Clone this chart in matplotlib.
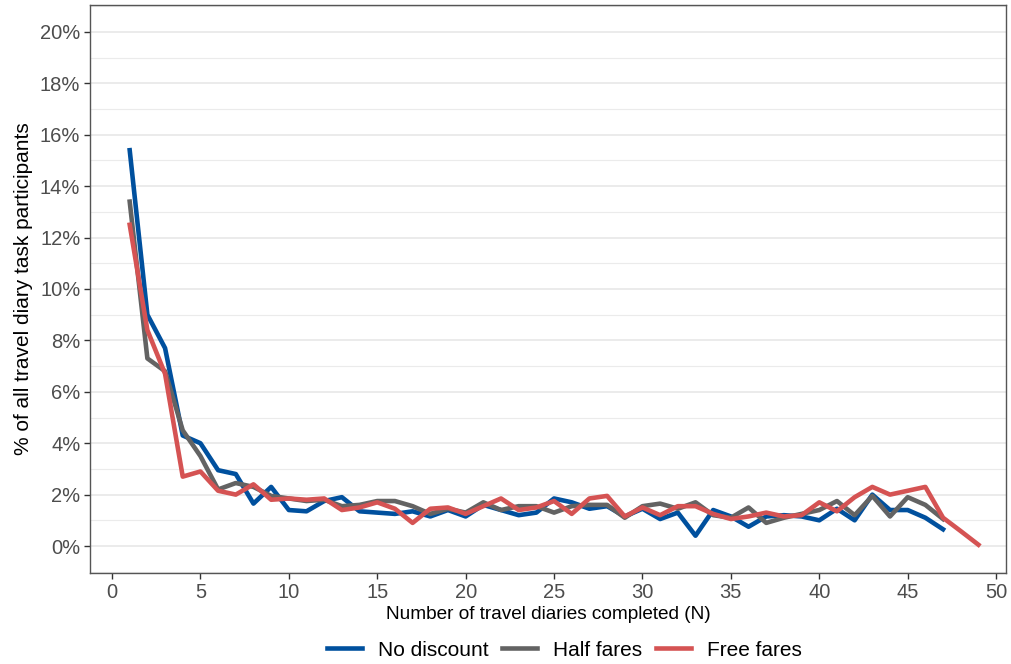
import matplotlib
matplotlib.use("Agg")
import matplotlib.pyplot as plt
from matplotlib.ticker import MultipleLocator, FuncFormatter

plt.rcParams['font.family'] = ['Liberation Sans', 'DejaVu Sans']

n_no = list(range(1, 48))
no_discount = [15.4, 9.0, 7.7, 4.3, 4.0, 2.95, 2.8, 1.65, 2.3, 1.4,
               1.35, 1.75, 1.9, 1.35, 1.3, 1.25, 1.35, 1.15, 1.4, 1.15,
               1.6, 1.4, 1.2, 1.3, 1.85, 1.7, 1.45, 1.55, 1.15, 1.45,
               1.05, 1.3, 0.4, 1.4, 1.15, 0.75, 1.15, 1.2, 1.15, 1.0,
               1.45, 1.0, 2.0, 1.4, 1.4, 1.1, 0.65]
n_half = list(range(1, 48))
half_fares = [13.4, 7.3, 6.8, 4.5, 3.5, 2.2, 2.45, 2.3, 1.95, 1.85,
              1.75, 1.8, 1.55, 1.6, 1.75, 1.75, 1.55, 1.25, 1.45, 1.3,
              1.7, 1.4, 1.55, 1.55, 1.3, 1.55, 1.6, 1.6, 1.1, 1.55,
              1.65, 1.45, 1.7, 1.2, 1.1, 1.5, 0.9, 1.1, 1.25, 1.4,
              1.75, 1.2, 1.95, 1.15, 1.9, 1.6, 1.05]
n_free = list(range(1, 50))
free_fares = [12.5, 8.4, 6.7, 2.7, 2.9, 2.15, 2.0, 2.4, 1.8, 1.85,
              1.8, 1.85, 1.4, 1.5, 1.7, 1.45, 0.9, 1.45, 1.5, 1.25,
              1.55, 1.85, 1.4, 1.5, 1.75, 1.25, 1.85, 1.95, 1.15, 1.5,
              1.2, 1.55, 1.55, 1.25, 1.05, 1.15, 1.3, 1.15, 1.2, 1.7,
              1.35, 1.9, 2.3, 2.0, 2.15, 2.3, 1.1, 0.58, 0.05]

W, H = 1011, 664
fig = plt.figure(figsize=(W / 100, H / 100), dpi=100)
ax = fig.add_axes([90 / W, 1 - 573 / H, (1006 - 90) / W, (573 - 5) / H])

ax.plot(n_no, no_discount, color='#00509E', lw=3.3, label='No discount', zorder=3)
ax.plot(n_half, half_fares, color='#636363', lw=3.3, label='Half fares', zorder=3)
ax.plot(n_free, free_fares, color='#D55353', lw=3.3, label='Free fares', zorder=3)

ax.set_xlim(-1.245, 50.56)
ax.set_ylim(-1.05, 21.05)
ax.xaxis.set_major_locator(MultipleLocator(5))
ax.yaxis.set_major_locator(MultipleLocator(2))
ax.yaxis.set_minor_locator(MultipleLocator(1))
ax.yaxis.set_major_formatter(FuncFormatter(lambda v, p: f"{v:.0f}%"))

ax.grid(axis='y', which='major', color='#EBEBEB', lw=1.4, zorder=0)
ax.grid(axis='y', which='minor', color='#EBEBEB', lw=0.8, zorder=0)
ax.grid(axis='x', visible=False)
ax.set_axisbelow(True)

for s in ax.spines.values():
    s.set_color('#555555')
    s.set_linewidth(1.0)

ax.tick_params(axis='both', which='major', length=4, width=1, color='#333333',
               labelcolor='#4D4D4D', labelsize=14.5, pad=3)
ax.tick_params(axis='y', which='minor', length=0)

ax.set_xlabel('Number of travel diaries completed (N)', fontsize=13.7, color='black', labelpad=3)
ax.set_ylabel('% of all travel diary task participants', fontsize=15, color='black', labelpad=5)

leg = fig.legend(loc='center', bbox_to_anchor=(564 / W, 1 - 650 / H), ncol=3, frameon=False,
                 fontsize=15, handlelength=1.7, handletextpad=0.75, columnspacing=0.65)

fig.savefig('out.png', dpi=100)
